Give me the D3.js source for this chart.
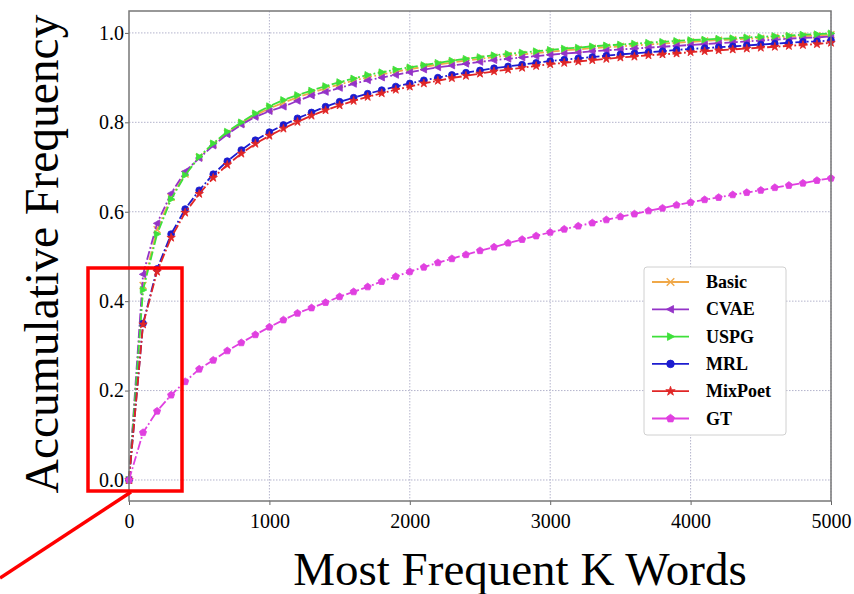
<!DOCTYPE html>
<html>
<head>
<meta charset="utf-8">
<script src="https://cdn.jsdelivr.net/npm/d3@7"></script>
<style>
  body { margin: 0; background: #fff; }
  .tick text { font-family: "Liberation Serif", "Times New Roman", serif; font-size: 20px; fill: #000; }
</style>
</head>
<body>
<div id="chart"></div>
<script>
// K values (most frequent K words)
var kValues = d3.range(0, 5001, 100);

var basic = [0,0.435,0.560,0.632,0.684,0.722,0.751,0.776,0.797,0.816,0.831,0.844,0.856,0.866,0.876,0.885,0.893,0.901,0.907,0.913,0.919,0.924,0.929,0.934,0.938,0.942,0.946,0.949,0.952,0.955,0.958,0.961,0.963,0.966,0.968,0.970,0.972,0.974,0.976,0.978,0.980,0.982,0.984,0.985,0.987,0.988,0.990,0.991,0.993,0.994,0.996];
var cvae = [0,0.460,0.574,0.641,0.690,0.720,0.748,0.773,0.795,0.812,0.825,0.835,0.848,0.860,0.868,0.877,0.886,0.894,0.900,0.906,0.912,0.918,0.923,0.927,0.931,0.935,0.939,0.942,0.945,0.948,0.951,0.954,0.956,0.959,0.961,0.963,0.965,0.967,0.969,0.971,0.973,0.975,0.977,0.979,0.981,0.983,0.985,0.987,0.989,0.990,0.992];
var uspg = [0,0.425,0.550,0.628,0.682,0.723,0.753,0.779,0.800,0.820,0.836,0.850,0.861,0.871,0.881,0.890,0.898,0.906,0.912,0.918,0.923,0.928,0.933,0.938,0.942,0.946,0.950,0.953,0.956,0.959,0.962,0.965,0.967,0.970,0.972,0.974,0.976,0.978,0.980,0.982,0.984,0.985,0.987,0.988,0.990,0.991,0.993,0.994,0.996,0.997,0.999];
var mrl = [0,0.350,0.472,0.550,0.606,0.648,0.684,0.713,0.738,0.760,0.778,0.794,0.809,0.822,0.835,0.846,0.855,0.864,0.872,0.880,0.887,0.894,0.900,0.906,0.911,0.916,0.921,0.925,0.929,0.933,0.937,0.940,0.943,0.946,0.949,0.952,0.954,0.957,0.959,0.962,0.964,0.966,0.968,0.970,0.972,0.974,0.976,0.978,0.980,0.981,0.983];
var mixpoet = [0,0.348,0.466,0.542,0.598,0.640,0.676,0.705,0.730,0.752,0.770,0.786,0.801,0.815,0.827,0.838,0.848,0.857,0.865,0.873,0.880,0.887,0.893,0.899,0.904,0.909,0.914,0.918,0.922,0.926,0.930,0.933,0.936,0.939,0.942,0.945,0.947,0.950,0.952,0.954,0.957,0.959,0.961,0.963,0.965,0.967,0.969,0.971,0.973,0.975,0.978];
var gt = [0,0.106,0.154,0.190,0.220,0.248,0.268,0.289,0.307,0.325,0.342,0.358,0.373,0.385,0.397,0.410,0.421,0.432,0.444,0.455,0.466,0.476,0.486,0.495,0.504,0.513,0.521,0.530,0.538,0.546,0.554,0.561,0.568,0.575,0.582,0.589,0.595,0.602,0.608,0.615,0.621,0.627,0.632,0.638,0.643,0.648,0.654,0.659,0.664,0.670,0.675];

var seriesNames = ["Basic", "CVAE", "USPG", "MRL", "MixPoet", "GT"];
var seriesValues = [basic, cvae, uspg, mrl, mixpoet, gt];
var seriesColors = ["#f0a848", "#9433c8", "#3ee03a", "#1c1ccf", "#e02626", "#e040e0"];
var seriesMarkers = ["x", "left", "right", "circle", "star", "pentagon"];

var xTicks = [0, 1000, 2000, 3000, 4000, 5000];
var yTicks = [0, 0.2, 0.4, 0.6, 0.8, 1.0];

var width = 854, height = 594;
var pLeft = 129, pRight = 831, pTop = 11, pBottom = 501;

var x = d3.scaleLinear().domain([0, 5000]).range([pLeft, pRight]);
var y = d3.scaleLinear().domain([-0.047, 1.049]).range([pBottom, pTop]);

var svg = d3.select("#chart").append("svg")
    .attr("width", width)
    .attr("height", height);

// grid
svg.append("g").selectAll("line").data(xTicks.slice(1)).enter().append("line")
    .attr("x1", d => x(d)).attr("x2", d => x(d))
    .attr("y1", pTop).attr("y2", pBottom)
    .attr("stroke", "#b4b4cc").attr("stroke-width", 1).attr("stroke-dasharray", "1.5,1.5");
svg.append("g").selectAll("line").data(yTicks).enter().append("line")
    .attr("x1", pLeft).attr("x2", pRight)
    .attr("y1", d => y(d)).attr("y2", d => y(d))
    .attr("stroke", "#b4b4cc").attr("stroke-width", 1).attr("stroke-dasharray", "1.5,1.5");

// axes
var yAxis = svg.append("g")
    .attr("transform", "translate(" + pLeft + ",0)")
    .call(d3.axisLeft(y).tickValues(yTicks).tickFormat(d3.format(".1f")).tickSize(4).tickPadding(1));
yAxis.select(".domain").remove();
yAxis.selectAll(".tick line").attr("stroke", "#666");

var xAxis = svg.append("g")
    .attr("transform", "translate(0," + pBottom + ")")
    .call(d3.axisBottom(x).tickValues(xTicks).tickFormat(d3.format("d")).tickSize(4));
xAxis.select(".domain").remove();
xAxis.selectAll(".tick line").attr("stroke", "#666");
xAxis.selectAll(".tick text").attr("y", 27).attr("dy", null);

// marker shapes
function markerPath(type, r) {
    if (type == "circle") return d3.symbol().type(d3.symbolCircle).size(Math.PI * r * r)();
    if (type == "star") return d3.symbol().type(d3.symbolStar).size(r * r * 1.9)();
    if (type == "x") return "M" + (-r) + "," + (-r) + "L" + r + "," + r + "M" + (-r) + "," + r + "L" + r + "," + (-r);
    if (type == "pentagon") {
        var pts = d3.range(5).map(i => {
            var a = -Math.PI / 2 + i * 2 * Math.PI / 5;
            return [r * 1.1 * Math.cos(a), r * 1.1 * Math.sin(a)];
        });
        return "M" + pts.join("L") + "Z";
    }
    // triangles
    var pts;
    if (type == "left") pts = [[-r * 1.1, 0], [r * 0.8, -r], [r * 0.8, r]];
    else pts = [[r * 1.1, 0], [-r * 0.8, -r], [-r * 0.8, r]];
    return "M" + pts.join("L") + "Z";
}

var line = d3.line().x((d, i) => x(kValues[i])).y(d => y(d));

seriesValues.forEach(function(vals, s) {
    var g = svg.append("g");
    g.append("path")
        .attr("d", line(vals))
        .attr("fill", "none")
        .attr("stroke", seriesColors[s])
        .attr("stroke-width", 1.8)
        .attr("stroke-dasharray", "9,2.5,1.8,2.5");
    g.selectAll("path.m").data(vals).enter().append("path")
        .attr("class", "m")
        .attr("transform", (d, i) => "translate(" + x(kValues[i]) + "," + y(d) + ")")
        .attr("d", markerPath(seriesMarkers[s], 3.4))
        .attr("fill", seriesMarkers[s] == "x" ? "none" : seriesColors[s])
        .attr("stroke", seriesColors[s])
        .attr("stroke-width", seriesMarkers[s] == "x" ? 1.4 : 0.8);
});

// frame
svg.append("rect")
    .attr("x", pLeft).attr("y", pTop)
    .attr("width", pRight - pLeft).attr("height", pBottom - pTop)
    .attr("fill", "none").attr("stroke", "#777").attr("stroke-width", 1.5);

// legend
var legend = svg.append("g").attr("transform", "translate(644,267)");
legend.append("rect")
    .attr("width", 142).attr("height", 168).attr("rx", 3)
    .attr("fill", "#fff").attr("stroke", "#d0d0d0").attr("stroke-width", 1);
seriesNames.forEach(function(name, s) {
    var ly = 15 + s * 27.3;
    legend.append("line")
        .attr("x1", 8).attr("x2", 45).attr("y1", ly).attr("y2", ly)
        .attr("stroke", seriesColors[s]).attr("stroke-width", 1.8);
    legend.append("path")
        .attr("transform", "translate(26.5," + ly + ")")
        .attr("d", markerPath(seriesMarkers[s], 3.8))
        .attr("fill", seriesMarkers[s] == "x" ? "none" : seriesColors[s])
        .attr("stroke", seriesColors[s])
        .attr("stroke-width", seriesMarkers[s] == "x" ? 1.4 : 0.8);
    legend.append("text")
        .attr("x", 62).attr("y", ly + 6)
        .attr("font-family", "Liberation Serif, Times New Roman, serif")
        .attr("font-weight", "bold")
        .attr("font-size", 18)
        .text(name);
});

// axis titles
svg.append("text")
    .attr("x", 520).attr("y", 585)
    .attr("text-anchor", "middle")
    .attr("font-family", "Liberation Serif, Times New Roman, serif")
    .attr("font-size", 47)
    .text("Most Frequent K Words");
svg.append("text")
    .attr("transform", "translate(58,254) rotate(-90)")
    .attr("text-anchor", "middle")
    .attr("font-family", "Liberation Serif, Times New Roman, serif")
    .attr("font-size", 47.5)
    .text("Accumulative Frequency");

// red highlight box and pointer
svg.append("rect")
    .attr("x", 88).attr("y", 268).attr("width", 94).attr("height", 223)
    .attr("fill", "none").attr("stroke", "#ff0000").attr("stroke-width", 3.5);
svg.append("line")
    .attr("x1", 131).attr("y1", 492).attr("x2", 0).attr("y2", 578)
    .attr("stroke", "#ff0000").attr("stroke-width", 3.5);
</script>
</body>
</html>
